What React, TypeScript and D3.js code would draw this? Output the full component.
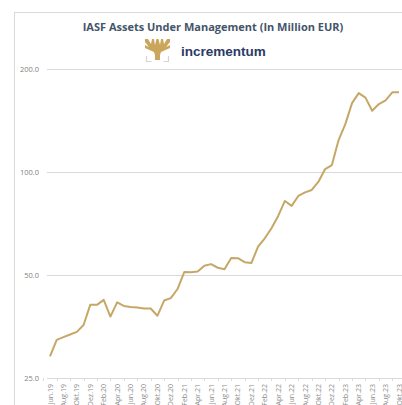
import React from 'react';
import * as d3 from 'd3';

const months = [
  'Jun.19', 'Jul.19', 'Aug.19', 'Sep.19', 'Okt.19', 'Nov.19', 'Dez.19',
  'Jan.20', 'Feb.20', 'Mär.20', 'Apr.20', 'Mai.20', 'Jun.20', 'Jul.20', 'Aug.20', 'Sep.20', 'Okt.20', 'Nov.20', 'Dez.20',
  'Jan.21', 'Feb.21', 'Mär.21', 'Apr.21', 'Mai.21', 'Jun.21', 'Jul.21', 'Aug.21', 'Sep.21', 'Okt.21', 'Nov.21', 'Dez.21',
  'Jan.22', 'Feb.22', 'Mär.22', 'Apr.22', 'Mai.22', 'Jun.22', 'Jul.22', 'Aug.22', 'Sep.22', 'Okt.22', 'Nov.22', 'Dez.22',
  'Jan.23', 'Feb.23', 'Mär.23', 'Apr.23', 'Mai.23', 'Jun.23', 'Jul.23', 'Aug.23', 'Sep.23', 'Okt.23',
];

const aum = [
  28.9, 32.3, 32.9, 33.5, 34.1, 35.7, 40.9,
  40.9, 42.3, 37.8, 41.6, 40.6, 40.3, 40.2, 39.9, 39.9, 38.0, 42.1, 42.8,
  45.5, 51.0, 50.9, 51.2, 53.2, 53.8, 52.5, 52.0, 56.1, 56.0, 54.5, 54.2,
  60.5, 64.0, 68.5, 74.4, 82.3, 79.6, 85.1, 87.2, 88.6, 93.7, 102, 104.8,
  124, 138, 159, 170, 165, 151, 158, 162, 171, 171,
];

const yTicks = [25, 50, 100, 200];

const W = 402;
const H = 405;

export default function App() {
  const x = d3.scalePoint<string>().domain(months).range([50, 399]);
  const y = d3.scaleLog().domain([25, 200]).range([378, 69]);
  const step = x.step();

  const line = d3
    .line<number>()
    .x((d, i) => x(months[i]) as number)
    .y(d => y(d));

  const labelMonths = months.filter((m, i) => i % 2 === 0);

  return (
    <svg
      width={W}
      height={H}
      style={{ position: 'absolute', left: 0, top: 0 }}
      fontFamily="'Open Sans', 'Liberation Sans', sans-serif"
    >
      <rect width={W} height={H} fill="#fff" />
      {/* chart frame */}
      <line x1={14} x2={W} y1={12.5} y2={12.5} stroke="#d9d9d9" />
      <line x1={14.5} x2={14.5} y1={12} y2={H} stroke="#d9d9d9" />

      <text x={213} y={31} textAnchor="middle" fontSize={11} fontWeight="bold" fill="#44546a">
        IASF Assets Under Management (In Million EUR)
      </text>

      {/* logo */}
      <g transform="translate(145,39)">
        <path
          d="M0 0 L3 0 L6 5 L7 0 L9 0 L10 6 L11.5 0 L13.5 0 L15 6 L16 0 L18 0 L19 5 L22 0 L25 0 L25 3 L21 8 L25 6 L25 9 L16 13 L15 16 L15 21 L10 21 L10 16 L9 13 L0 9 L0 6 L4 8 L0 3 Z"
          fill="#c9a65c"
        />
        <path d="M1.5 17 v5.5 h5 M23.5 17 v5.5 h-5" fill="none" stroke="#d4d4d4" strokeWidth={1.2} />
      </g>
      <text x={181} y={55.5} fontSize={13.5} fontWeight="bold" fill="#2b3a67" fontFamily="'Liberation Sans', Arial, sans-serif">
        incrementum
      </text>

      {yTicks.map(t => (
        <g key={t}>
          <line x1={47} x2={W} y1={Math.round(y(t)) + 0.5} y2={Math.round(y(t)) + 0.5} stroke="#d9d9d9" />
          <text x={39} y={y(t) + 3} textAnchor="end" fontSize={7.5} fill="#7f7f7f">
            {t.toFixed(1)}
          </text>
        </g>
      ))}

      {/* category ticks below axis */}
      {labelMonths.map(m => (
        <line
          key={'t' + m}
          x1={Math.round((x(m) as number) - step) + 0.5}
          x2={Math.round((x(m) as number) - step) + 0.5}
          y1={378}
          y2={381}
          stroke="#d9d9d9"
        />
      ))}

      <path d={line(aum) ?? ''} fill="none" stroke="#c5a867" strokeWidth={2} strokeLinejoin="round" />

      {labelMonths.map(m => (
        <text
          key={m}
          transform={`translate(${(x(m) as number) + 2.5},384) rotate(-90)`}
          textAnchor="end"
          fontSize={7}
          fill="#8c8c8c"
        >
          {m}
        </text>
      ))}
    </svg>
  );
}
